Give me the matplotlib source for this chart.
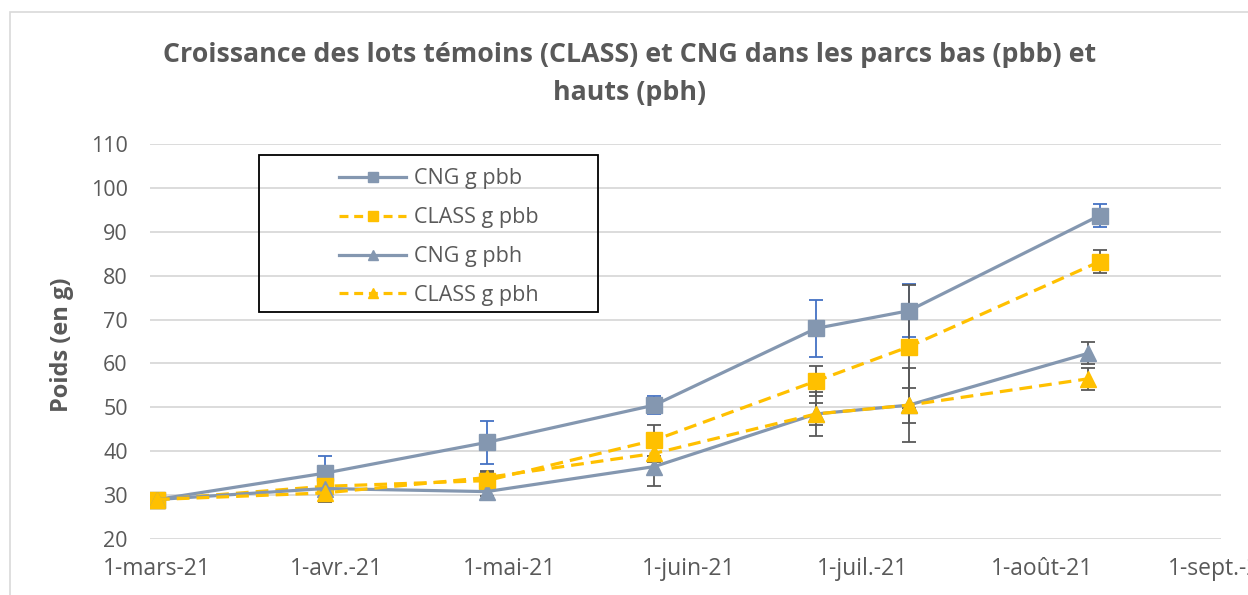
import datetime as dt
import matplotlib
matplotlib.use('Agg')
import matplotlib.pyplot as plt
import matplotlib.dates as mdates
from matplotlib.lines import Line2D
from matplotlib.patches import Rectangle

# dates of the measurements
dates_sq = [dt.date(2021, 3, 1), dt.date(2021, 3, 30), dt.date(2021, 4, 27), dt.date(2021, 5, 26),
            dt.date(2021, 6, 23), dt.date(2021, 7, 9), dt.date(2021, 8, 11)]
dates_tri = [dt.date(2021, 3, 1), dt.date(2021, 3, 30), dt.date(2021, 4, 27), dt.date(2021, 5, 26),
             dt.date(2021, 6, 23), dt.date(2021, 7, 9), dt.date(2021, 8, 9)]

# weights (g) and error bars
cng_pbb = [29, 35, 42, 50.5, 68, 72, 93.7]
cng_pbb_err = [0.5, 4, 5, 2, 6.5, 6, 2.7]
class_pbb = [29, 32, 33.3, 42.5, 56, 63.8, 83.2]
class_pbb_err = [0.5, 1.5, 2, 3.5, 3.5, 14, 2.7]
cng_pbh = [29, 31.5, 30.8, 36.5, 48.5, 50.5, 62.3]
cng_pbh_err = [0.5, 3, 1, 4.5, 5, 8.5, 2.5]
class_pbh = [29, 30.5, 34, 39.5, 48.5, 50.5, 56.5]
class_pbh_err = [0.5, 1.5, 1.5, 2, 2.5, 4, 2.5]

tick_dates = [dt.date(2021, m, 1) for m in range(3, 10)]
tick_labels = ['1-mars-21', '1-avr.-21', '1-mai-21', '1-juin-21', '1-juil.-21', '1-août-21', '1-sept.-21']

plt.rcParams['font.family'] = ['Open Sans', 'DejaVu Sans']
GRAY = '#8497B0'
YEL = '#FFC000'
TXT = '#595959'

fig = plt.figure(figsize=(12.48, 5.95), dpi=100)
ax = fig.add_axes([150 / 1248, 56 / 595, 1071 / 1248, 395 / 595])

# chart border
fig.patches.append(Rectangle((10 / 1248, -0.05), 1.1, (595 - 12) / 595 + 0.05, transform=fig.transFigure,
                             fill=False, edgecolor='#D9D9D9', linewidth=1.2))

lw = 2.3
ax.errorbar(dates_sq, cng_pbb, yerr=cng_pbb_err, fmt='none', ecolor='#4472C4', elinewidth=1.3, capsize=5, capthick=1.3, zorder=3)
ax.plot(dates_sq, cng_pbb, color=GRAY, lw=lw, marker='s', ms=12, zorder=4)
ax.errorbar(dates_sq, class_pbb, yerr=class_pbb_err, fmt='none', ecolor=TXT, elinewidth=1.3, capsize=5, capthick=1.3, zorder=3)
ax.plot(dates_sq, class_pbb, color=YEL, lw=lw, dashes=(4, 2.2), marker='s', ms=12, zorder=4)
ax.errorbar(dates_tri, cng_pbh, yerr=cng_pbh_err, fmt='none', ecolor=TXT, elinewidth=1.3, capsize=5, capthick=1.3, zorder=3)
ax.plot(dates_tri, cng_pbh, color=GRAY, lw=lw, marker='^', ms=12, zorder=4)
ax.errorbar(dates_tri, class_pbh, yerr=class_pbh_err, fmt='none', ecolor=TXT, elinewidth=1.3, capsize=5, capthick=1.3, zorder=3)
ax.plot(dates_tri, class_pbh, color=YEL, lw=lw, dashes=(4, 2.2), marker='^', ms=12, zorder=4)

ax.set_ylim(20, 110)
ax.set_yticks(range(20, 111, 10))
ax.set_xlim(mdates.date2num(dt.date(2021, 3, 1)) - 1.2, mdates.date2num(dt.date(2021, 9, 1)))
ax.set_xticks(mdates.date2num(tick_dates))
ax.set_xticklabels(tick_labels)
ax.grid(axis='y', color='#D9D9D9', linewidth=1.3)
ax.set_axisbelow(True)
for s in ax.spines.values():
    s.set_visible(False)
ax.tick_params(axis='y', length=0, labelsize=15.5, colors=TXT, pad=16)
ax.tick_params(axis='x', length=0, labelsize=16.5, colors=TXT, pad=13)
for lab in ax.get_xticklabels():
    lab.set_clip_on(False)

fig.text(62 / 1248, 1 - 345 / 595, 'Poids (en g)', rotation=90, ha='center', va='center',
         fontsize=17, fontweight='bold', color=TXT)
fig.text(630 / 1248, 1 - 74 / 595, 'Croissance des lots témoins (CLASS) et CNG dans les parcs bas (pbb) et\nhauts (pbh)',
         ha='center', va='center', fontsize=19.3, fontweight='bold', color=TXT, linespacing=1.6)

# legend box and entries
fig.patches.append(Rectangle((259 / 1248, 1 - 312 / 595), 339 / 1248, 157 / 595, transform=fig.transFigure,
                             fill=False, edgecolor='black', linewidth=1.3, zorder=5))
handles = [
    Line2D([], [], color=GRAY, lw=lw, marker='s', ms=7),
    Line2D([], [], color=YEL, lw=lw, dashes=(2.8, 1.8), marker='s', ms=7),
    Line2D([], [], color=GRAY, lw=lw, marker='^', ms=7),
    Line2D([], [], color=YEL, lw=lw, dashes=(2.8, 1.8), marker='^', ms=7),
]
labels = ['CNG g pbb', 'CLASS g pbb', 'CNG g pbh', 'CLASS g pbh']
fig.legend(handles, labels, loc='upper left', bbox_to_anchor=(320 / 1248, 1 - 149 / 595), frameon=False,
           fontsize=15.5, handlelength=3.1, handletextpad=0.35, labelspacing=0.83, labelcolor=TXT)

fig.savefig('out.png', dpi=100)
